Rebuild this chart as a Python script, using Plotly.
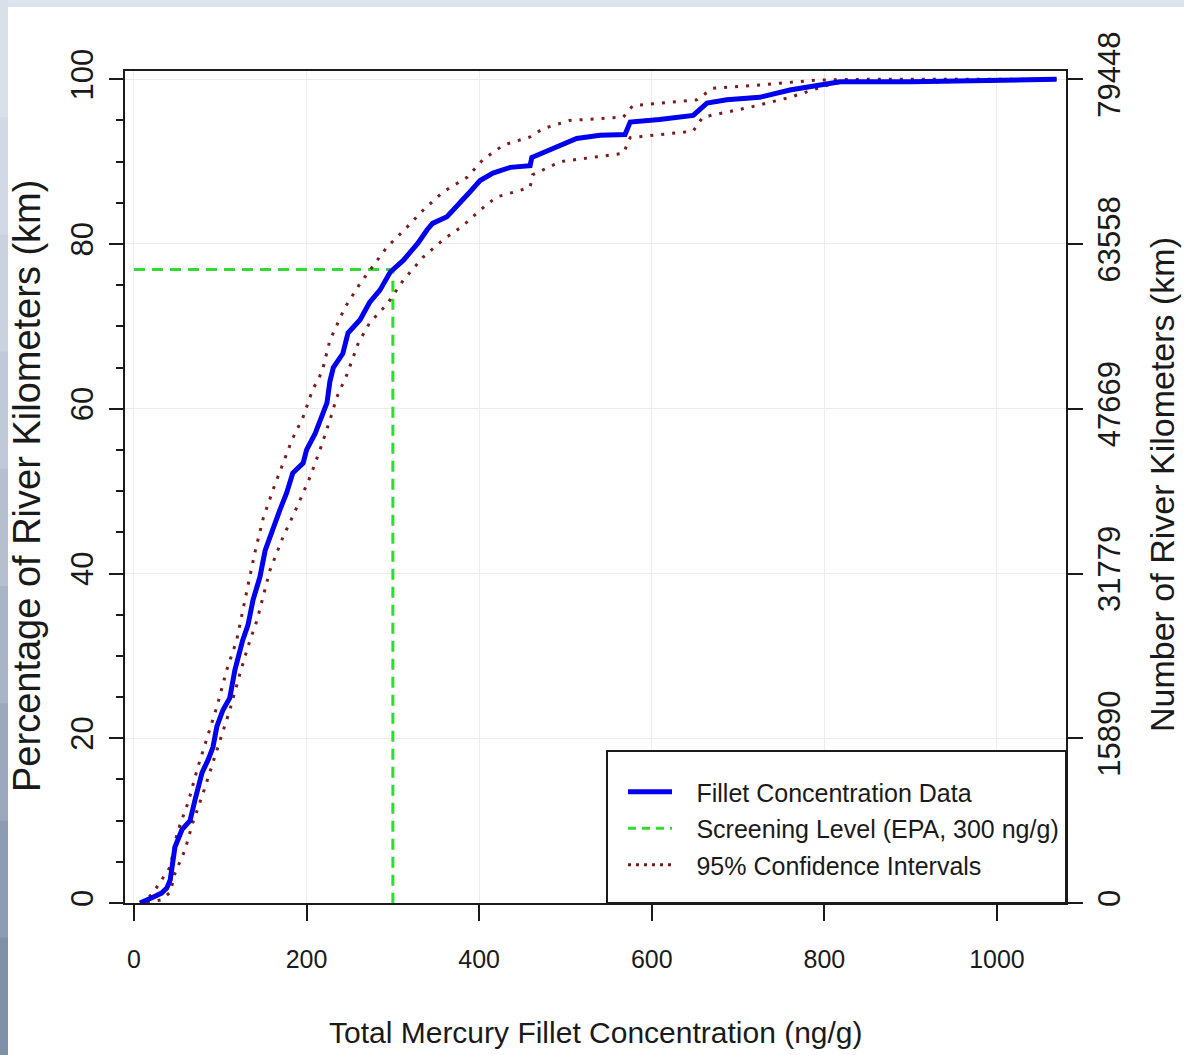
import plotly.graph_objects as go

# ---------------- data ----------------
conc_x = [7, 15, 22, 32, 38, 42, 45, 47.5, 55.6, 65, 70.7, 78.8, 86, 91.5, 96, 103, 111, 117, 126, 132,
          138, 146, 152, 160, 169, 177, 184, 196, 200, 210, 218, 223.6, 227, 231, 242, 248, 262, 273, 285,
          297, 312, 320, 329, 339.5, 346, 362.7, 374, 381, 390, 401, 416, 436, 459, 461, 482, 497, 513, 540, 569,
          575, 609, 648, 664, 687, 725, 760, 803, 818, 900, 1000, 1069]
conc_pct = [0, 0.3, 0.7, 1.2, 1.8, 2.8, 5.2, 6.8, 8.9, 10, 12.5, 15.8, 17.4, 18.9, 21.4, 23.4, 24.9, 28.3, 31.9, 33.7,
            36.8, 39.6, 42.8, 45.3, 47.7, 49.8, 52.2, 53.4, 55, 57, 59, 60.7, 63.3, 65, 66.7, 69.2, 70.8, 72.9, 74.4,
            76.6, 78.0, 78.9, 80.1, 81.7, 82.5, 83.3, 84.5, 85.3, 86.4, 87.7, 88.6, 89.3, 89.5, 90.5, 91.4, 92.2, 92.8, 93.2, 93.3,
            94.8, 95.1, 95.6, 97.1, 97.5, 97.8, 98.7, 99.5, 99.7, 99.7, 99.8, 100]

upper_x = [7, 15, 22, 42, 50, 63, 74, 84.5, 96, 107.5, 119, 131, 140, 150, 163, 183, 196, 207, 218, 227, 244.5,
           262, 276, 293, 316, 335, 358, 386, 404, 428, 459, 474, 505, 567, 578, 652, 671, 725, 791, 850, 1069]
upper_pct = [0, 0.5, 1.2, 4.4, 8.5, 12.3, 16.5, 20.1, 23.8, 28.3, 31.9, 38, 42.5, 46.8, 50.7, 56.2, 59, 62.3, 64.5, 68.3, 72.3,
             75.2, 77.2, 79.6, 82, 84.1, 86.3, 88.1, 90.2, 92, 93, 94, 95, 95.4, 96.8, 97.5, 98.9, 99.3, 99.9, 100, 100]

lower_x = [15, 32, 42, 47.5, 59, 68, 80, 90, 99.7, 111, 123, 132, 142.5, 157.6, 172.6, 189, 204, 215.5, 227, 235,
           247, 260, 273, 294, 312, 335, 358, 381, 401, 420, 447, 459, 462, 494, 567, 575, 648, 659, 714, 760, 810,
           821, 900, 1069]
lower_pct = [0, 0.4, 1.3, 3.6, 6.4, 9.7, 13.3, 16.5, 19.8, 23.4, 27.9, 31.1, 34.3, 40.4, 44.4, 48.1, 51.7, 55, 58.6, 61.4,
             64.2, 68, 70.4, 72.8, 75.6, 78.4, 80.5, 82.2, 84.1, 85.7, 86.5, 86.9, 88.4, 90.0, 91, 92.9, 93.7, 95.4, 96.6, 97.8, 99.5,
             99.6, 99.6, 100]

screen_level = 300
screen_pct = 76.9

x_ticks = [0, 200, 400, 600, 800, 1000]
y_ticks = [0, 20, 40, 60, 80, 100]
km_labels = ["0", "15890", "31779", "47669", "63558", "79448"]

SANS = "Liberation Sans, Arial, sans-serif"
INK = "#1a1a1a"
BLUE = "#0000ee"
GREEN = "#2fdc2f"
DRED = "#7a1c1c"
GAP = "\u2002\u00a0"  # spacing between legend sample and label

fig = go.Figure()

# screening level (dashed green)
fig.add_trace(go.Scatter(x=[0, screen_level, screen_level], y=[screen_pct, screen_pct, 0], mode="lines",
                         line=dict(color=GREEN, width=3, dash="11px,7px"), showlegend=False, hoverinfo="skip"))
# confidence intervals
fig.add_trace(go.Scatter(x=upper_x, y=upper_pct, mode="lines", name="95% Confidence Intervals",
                         line=dict(color=DRED, width=3, dash="3px,8px"), showlegend=False))
fig.add_trace(go.Scatter(x=lower_x, y=lower_pct, mode="lines", name="95% Confidence Intervals",
                         line=dict(color=DRED, width=3, dash="3px,8px"), showlegend=False))
# data
fig.add_trace(go.Scatter(x=conc_x, y=conc_pct, mode="lines", name="Fillet Concentration Data",
                         line=dict(color=BLUE, width=5), showlegend=False))

# legend-only entries
fig.add_trace(go.Scatter(x=[None], y=[None], mode="lines", name=GAP + "Fillet Concentration Data",
                         legendgroup="a", line=dict(color=BLUE, width=5)))
fig.add_trace(go.Scatter(x=[None], y=[None], mode="lines", name=GAP + "Screening Level (EPA, 300 ng/g)",
                         legendgroup="b", line=dict(color=GREEN, width=3, dash="8px,6px")))
fig.add_trace(go.Scatter(x=[None], y=[None], mode="lines", name=GAP + "95% Confidence Intervals",
                         legendgroup="c", line=dict(color=DRED, width=3, dash="3px,5px")))
# invisible trace to create the right axis
fig.add_trace(go.Scatter(x=[conc_x[0]], y=[conc_pct[0]], yaxis="y2", mode="markers",
                         marker=dict(opacity=0), showlegend=False, hoverinfo="skip"))

W, H = 1184, 1055
L, R, T, B = 125, 118, 71, 152
pw, ph = W - L - R, H - T - B


def px_x(px):
    return (px - L) / pw


def px_y(py):
    return (H - B - py) / ph


shapes = []
# border gradient strips (decor)
left_cols = ["#d9e0ea", "#d2d9e5", "#cad2df", "#c0c9d8", "#b5bfd0", "#a9b4c7", "#9ba8be", "#8d9bb3", "#8090aa"]
n = len(left_cols)
for i, c in enumerate(left_cols):
    shapes.append(dict(type="rect", xref="paper", yref="paper", layer="below",
                       x0=px_x(0), x1=px_x(8), y0=px_y(i * H / n), y1=px_y((i + 1) * H / n + 1),
                       fillcolor=c, line=dict(width=0)))
shapes.append(dict(type="rect", xref="paper", yref="paper", layer="below",
                   x0=px_x(8), x1=px_x(W), y0=px_y(0), y1=px_y(7), fillcolor="#dde3ec", line=dict(width=0)))
# legend box
shapes.append(dict(type="rect", xref="paper", yref="paper", layer="above",
                   x0=px_x(607), x1=1, y0=0, y1=px_y(751), fillcolor="white", line=dict(color=INK, width=2)))

annotations = [
    dict(text="Percentage of River Kilometers (km)", xref="paper", yref="paper", x=px_x(27), y=px_y(486),
         xanchor="center", yanchor="middle", textangle=-90, showarrow=False,
         font=dict(family=SANS, size=38, color=INK)),
    dict(text="Number of River Kilometers (km)", xref="paper", yref="paper", x=px_x(1162), y=px_y(485),
         xanchor="center", yanchor="middle", textangle=-90, showarrow=False,
         font=dict(family=SANS, size=34, color=INK)),
    dict(text="Total Mercury Fillet Concentration (ng/g)", xref="paper", yref="paper", x=px_x(596), y=px_y(1032),
         xanchor="center", yanchor="middle", showarrow=False, font=dict(family=SANS, size=30, color=INK)),
]

fig.update_layout(
    width=W, height=H, margin=dict(l=L, r=R, t=T, b=B),
    paper_bgcolor="white", plot_bgcolor="white",
    shapes=shapes, annotations=annotations,
    legend=dict(x=px_x(623), y=px_y(769), xanchor="left", yanchor="top", bgcolor="rgba(0,0,0,0)",
                borderwidth=0, font=dict(family=SANS, size=25, color=INK), tracegroupgap=1,
                traceorder="grouped", itemwidth=44),
    xaxis=dict(range=[-10.4, 1080], tickvals=x_ticks, ticks="outside", ticklen=16, tickwidth=2, tickcolor=INK,
               showline=True, linecolor=INK, linewidth=2, mirror=True, showgrid=True, gridcolor="#ececec",
               gridwidth=1, zeroline=False, tickfont=dict(family=SANS, size=25, color=INK),
               ticklabelstandoff=17),
    yaxis=dict(range=[0, 101], tickvals=y_ticks, ticks="outside", ticklen=14, tickwidth=2, tickcolor=INK,
               showline=True, linecolor=INK, linewidth=2, mirror=True, showgrid=True, gridcolor="#ececec",
               gridwidth=1, zeroline=False, tickangle=-90, tickfont=dict(family=SANS, size=31, color=INK),
               minor=dict(tickvals=[5, 10, 15, 25, 30, 35, 45, 50, 55, 65, 70, 75, 85, 90, 95], ticks="outside",
                          ticklen=7, tickwidth=2, tickcolor=INK, showgrid=False),
               ticklabelstandoff=4),
    yaxis2=dict(range=[0, 101], overlaying="y", side="right", tickvals=y_ticks, ticktext=km_labels,
                ticks="outside", ticklen=15, tickwidth=2, tickcolor=INK, showline=True, linecolor=INK,
                linewidth=2, showgrid=False, zeroline=False, tickangle=-90,
                tickfont=dict(family=SANS, size=31, color=INK), ticklabelstandoff=0),
)

fig.write_html("out.html", config={"displayModeBar": False},
               post_script="document.body.style.margin='0';")
